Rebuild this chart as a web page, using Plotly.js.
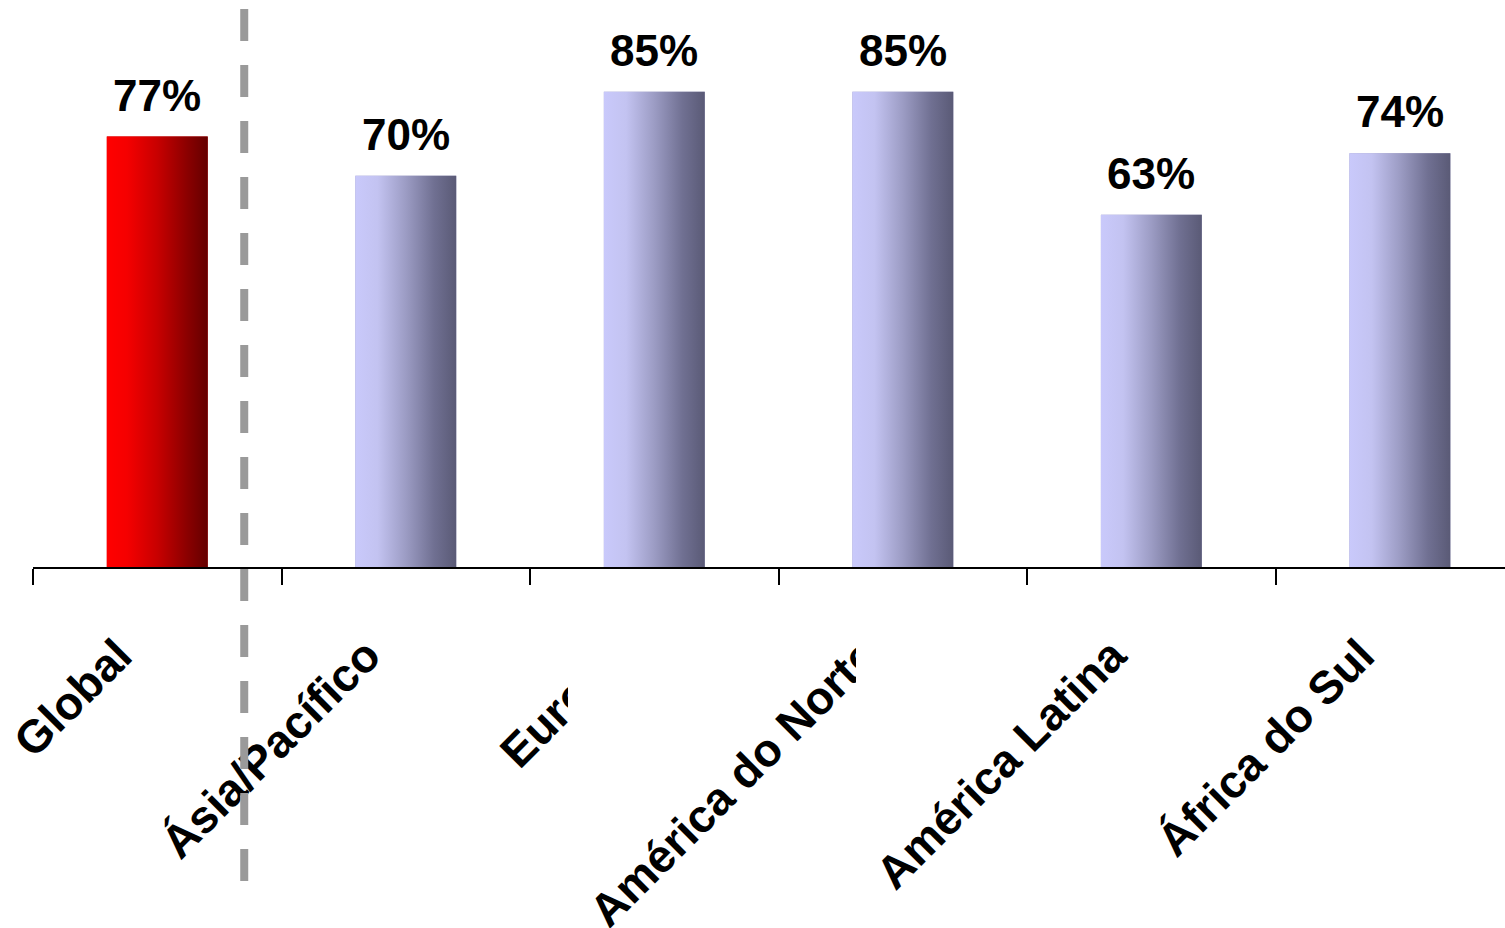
<!DOCTYPE html>
<html>
<head>
<meta charset="utf-8">
<script src="https://cdn.plot.ly/plotly-3.0.1.min.js"></script>
<style>
html,body{margin:0;padding:0;background:#fff;overflow:hidden;}
#chart{width:1505px;height:928px;}
</style>
</head>
<body>
<div id="chart"></div>
<script>
// ---- data ----
const categories = ['Global', 'Ásia/Pacífico', 'Europa', 'América do Norte', 'América Latina', 'África do Sul'];
const values = [77, 70, 85, 85, 63, 74];
const valueLabels = ['77%', '70%', '85%', '85%', '63%', '74%'];

// ---- styles ----
const FONT = 'Arial, "Liberation Sans", sans-serif';
const BAR_W = 0.406;
const redScale = [[0, '#FF0000'], [0.2, '#F50000'], [0.5, '#C80000'], [0.8, '#8A0000'], [1, '#640000']];
const blueScale = [[0, '#C9C9FB'], [0.22, '#C3C3F1'], [0.5, '#9C9CC4'], [0.78, '#707092'], [1, '#5A5A76']];

const idx = categories.map((_, i) => i);

const traces = [];
traces.push({
  type: 'bar', x: idx, y: values, width: BAR_W,
  marker: {color: idx.map(i => i === 0 ? '#C00000' : '#9C9CC4'), line: {width: 0}},
  hoverinfo: 'skip', showlegend: false
});
idx.forEach(i => {
  const h = BAR_W / 2;
  traces.push({
    type: 'scatter', mode: 'lines',
    x: [i - h, i + h, i + h, i - h, i - h],
    y: [0, 0, values[i], values[i], 0],
    fill: 'toself',
    fillgradient: {type: 'horizontal', colorscale: i === 0 ? redScale : blueScale},
    line: {width: 0, color: 'rgba(0,0,0,0)'},
    hoverinfo: 'skip', showlegend: false
  });
});

const annotations = idx.map(i => ({
  x: i, y: values[i], xref: 'x', yref: 'y',
  text: valueLabels[i], showarrow: false,
  xanchor: 'center', yanchor: 'bottom', yshift: 15,
  font: {family: FONT, size: 44, color: '#000', weight: 'bold'}
}));

// pixel helpers for decorations
const PL = 33, PW = 1472, AXY = 567, PH = 559;
const px2paperX = p => (p - PL) / PW;
const py2paperY = p => (AXY - p) / PH;

const shapes = [
  // white boxes that hide parts of two labels (as in the original)
  {type: 'rect', xref: 'paper', yref: 'paper', layer: 'above',
   x0: px2paperX(568), x1: px2paperX(665), y0: py2paperY(590), y1: py2paperY(740),
   fillcolor: '#ffffff', line: {width: 0}},
  {type: 'rect', xref: 'paper', yref: 'paper', layer: 'above',
   x0: px2paperX(856), x1: px2paperX(905), y0: py2paperY(590), y1: py2paperY(720),
   fillcolor: '#ffffff', line: {width: 0}},
  // dashed separator
  {type: 'line', xref: 'x', yref: 'paper', layer: 'above',
   x0: 0.35, x1: 0.35, y0: py2paperY(9), y1: py2paperY(881),
   line: {color: '#9A9A9A', width: 8, dash: '32px,24px'}}
];

const layout = {
  width: 1505, height: 928,
  margin: {l: PL, r: 0, t: AXY - PH, b: 928 - AXY, pad: 0},
  paper_bgcolor: '#ffffff', plot_bgcolor: '#ffffff',
  showlegend: false,
  xaxis: {
    type: 'linear', range: [-0.5, 5.423], fixedrange: true,
    tickmode: 'array', tickvals: idx, ticktext: categories,
    ticks: '', tickangle: -45,
    ticklabelstandoff: 41, ticklabelshift: -39,
    tickfont: {family: FONT, size: 46, color: '#000', weight: 'bold'},
    showline: true, linecolor: '#000', linewidth: 2,
    showgrid: false, zeroline: false,
    minor: {tickmode: 'linear', tick0: -0.5, dtick: 1, ticks: 'outside', ticklen: 16, tickwidth: 2, tickcolor: '#000', showgrid: false}
  },
  yaxis: {range: [0, 100], visible: false, fixedrange: true, showgrid: false, zeroline: false},
  annotations: annotations,
  shapes: shapes
};

Plotly.newPlot('chart', traces, layout, {displayModeBar: false, staticPlot: true});
</script>
</body>
</html>
